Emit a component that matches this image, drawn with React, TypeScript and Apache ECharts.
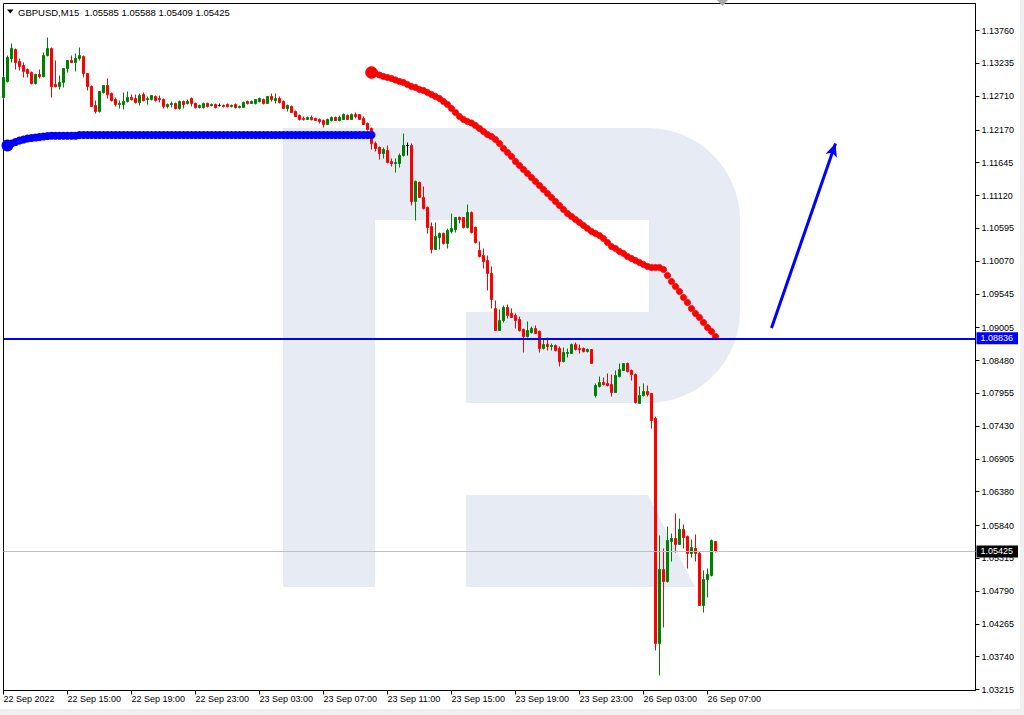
import React, { useEffect, useRef } from "react";
import * as echarts from "echarts";

const FONT = '"Liberation Sans", Arial, sans-serif';

const chartTitle = "GBPUSD,M15";
const lastQuote = ["1.05585", "1.05588", "1.05409", "1.05425"];

const xTickLabels = [
  "22 Sep 2022", "22 Sep 15:00", "22 Sep 19:00", "22 Sep 23:00", "23 Sep 03:00",
  "23 Sep 07:00", "23 Sep 11:00", "23 Sep 15:00", "23 Sep 19:00", "23 Sep 23:00",
  "26 Sep 03:00", "26 Sep 07:00",
];

const yTickValues = [
  1.1376, 1.13235, 1.1271, 1.1217, 1.11645, 1.1112, 1.10595, 1.1007, 1.09545, 1.09005,
  1.0848, 1.07955, 1.0743, 1.06905, 1.0638, 1.0584, 1.05315, 1.0479, 1.04265, 1.0374, 1.03215,
];

// [open, close, low, high]
const candles: number[][] = [
  [1.12688, 1.13008, 1.12656, 1.1304],
  [1.12944, 1.13328, 1.12928, 1.1336],
  [1.13312, 1.13472, 1.13248, 1.13552],
  [1.13456, 1.13248, 1.13136, 1.13472],
  [1.13264, 1.13184, 1.1312, 1.13312],
  [1.132, 1.13104, 1.13008, 1.13248],
  [1.13136, 1.13072, 1.13008, 1.13152],
  [1.13088, 1.12912, 1.12896, 1.13104],
  [1.12912, 1.13056, 1.12896, 1.13072],
  [1.13056, 1.13024, 1.12992, 1.13136],
  [1.13024, 1.1336, 1.13008, 1.13408],
  [1.1336, 1.13472, 1.13344, 1.13648],
  [1.13472, 1.12864, 1.12688, 1.13488],
  [1.12896, 1.12864, 1.12848, 1.1328],
  [1.12864, 1.12928, 1.12816, 1.1304],
  [1.12928, 1.13152, 1.12848, 1.13152],
  [1.13152, 1.1328, 1.13088, 1.1328],
  [1.1328, 1.13248, 1.13248, 1.1336],
  [1.13248, 1.13312, 1.13104, 1.13392],
  [1.13312, 1.1336, 1.1328, 1.13488],
  [1.13344, 1.13072, 1.13008, 1.1336],
  [1.13072, 1.12864, 1.128, 1.13072],
  [1.12864, 1.12544, 1.12544, 1.1288],
  [1.1256, 1.12464, 1.12432, 1.1264],
  [1.12464, 1.12784, 1.12448, 1.12784],
  [1.12768, 1.1288, 1.12752, 1.1288],
  [1.1288, 1.12736, 1.12672, 1.12992],
  [1.12752, 1.1264, 1.12624, 1.12768],
  [1.12656, 1.12576, 1.12544, 1.12688],
  [1.12576, 1.12592, 1.12512, 1.1264],
  [1.12576, 1.12624, 1.12496, 1.12768],
  [1.12624, 1.12688, 1.12608, 1.12784],
  [1.12688, 1.12656, 1.1264, 1.12736],
  [1.12672, 1.12608, 1.12592, 1.12736],
  [1.12608, 1.1272, 1.1256, 1.12752],
  [1.12736, 1.1264, 1.12624, 1.12768],
  [1.12656, 1.12672, 1.12576, 1.12704],
  [1.12656, 1.1272, 1.1264, 1.1272],
  [1.12704, 1.1264, 1.12624, 1.1272],
  [1.12672, 1.12656, 1.12608, 1.1272],
  [1.12656, 1.12544, 1.12512, 1.12672],
  [1.12544, 1.12576, 1.12512, 1.12592],
  [1.12576, 1.12592, 1.12528, 1.12624],
  [1.12592, 1.12512, 1.12496, 1.12608],
  [1.12512, 1.12624, 1.12496, 1.1264],
  [1.12624, 1.12576, 1.12512, 1.1264],
  [1.12592, 1.12624, 1.12576, 1.12656],
  [1.12672, 1.12592, 1.12544, 1.12688],
  [1.12592, 1.12528, 1.12512, 1.12608],
  [1.12528, 1.1256, 1.12512, 1.12576],
  [1.12528, 1.12592, 1.12512, 1.12608],
  [1.12592, 1.12544, 1.12528, 1.12608],
  [1.1256, 1.12576, 1.12544, 1.12592],
  [1.12576, 1.12528, 1.12512, 1.12592],
  [1.1256, 1.1256, 1.12544, 1.12592],
  [1.1256, 1.12544, 1.12528, 1.12576],
  [1.12576, 1.12544, 1.12528, 1.12592],
  [1.12544, 1.1256, 1.12528, 1.12576],
  [1.12576, 1.12528, 1.12512, 1.12592],
  [1.12528, 1.12544, 1.12512, 1.1256],
  [1.12528, 1.12608, 1.12528, 1.12624],
  [1.12624, 1.12592, 1.12576, 1.1264],
  [1.12592, 1.12624, 1.12592, 1.1264],
  [1.12592, 1.12656, 1.12576, 1.12656],
  [1.12624, 1.12672, 1.12608, 1.12688],
  [1.12656, 1.12592, 1.12576, 1.12672],
  [1.12592, 1.12704, 1.12592, 1.12704],
  [1.12704, 1.12656, 1.12624, 1.12752],
  [1.1264, 1.12672, 1.12592, 1.12752],
  [1.12672, 1.12608, 1.12592, 1.12704],
  [1.12624, 1.12512, 1.12512, 1.1264],
  [1.12512, 1.1256, 1.12464, 1.12576],
  [1.12544, 1.12448, 1.12448, 1.1256],
  [1.12464, 1.12384, 1.12384, 1.1248],
  [1.124, 1.12336, 1.1232, 1.12416],
  [1.12352, 1.12336, 1.1232, 1.12384],
  [1.12336, 1.12368, 1.12336, 1.12384],
  [1.12368, 1.12336, 1.1232, 1.124],
  [1.12352, 1.1232, 1.1232, 1.12368],
  [1.12336, 1.12304, 1.12272, 1.12352],
  [1.1232, 1.12256, 1.12208, 1.12336],
  [1.12256, 1.12336, 1.12256, 1.12352],
  [1.1232, 1.12368, 1.12304, 1.12384],
  [1.12368, 1.1232, 1.1232, 1.12384],
  [1.1232, 1.12368, 1.12304, 1.124],
  [1.12336, 1.12416, 1.12336, 1.12432],
  [1.124, 1.12336, 1.12336, 1.12416],
  [1.12336, 1.12416, 1.12336, 1.12432],
  [1.12416, 1.12384, 1.12352, 1.12448],
  [1.12416, 1.12336, 1.12336, 1.12416],
  [1.12352, 1.12256, 1.12256, 1.12384],
  [1.12272, 1.12176, 1.1216, 1.12288],
  [1.12192, 1.11952, 1.11856, 1.12208],
  [1.11952, 1.11872, 1.11824, 1.11984],
  [1.11888, 1.11792, 1.11696, 1.11904],
  [1.11792, 1.11856, 1.11712, 1.11888],
  [1.1184, 1.11648, 1.11632, 1.1192],
  [1.11664, 1.11632, 1.11584, 1.11712],
  [1.11632, 1.11648, 1.11488, 1.11712],
  [1.11632, 1.1176, 1.11568, 1.11792],
  [1.1176, 1.1192, 1.11744, 1.12112],
  [1.1192, 1.1192, 1.1176, 1.11968],
  [1.1192, 1.11024, 1.1096, 1.11952],
  [1.11024, 1.11344, 1.1072, 1.1136],
  [1.11328, 1.11088, 1.11088, 1.11344],
  [1.11088, 1.10912, 1.10896, 1.11264],
  [1.10928, 1.10608, 1.10512, 1.10944],
  [1.10624, 1.10256, 1.10192, 1.10688],
  [1.10256, 1.10464, 1.10256, 1.10688],
  [1.10448, 1.10512, 1.10256, 1.10528],
  [1.10512, 1.10352, 1.10336, 1.10528],
  [1.10352, 1.1056, 1.10272, 1.10592],
  [1.10544, 1.10592, 1.10512, 1.10832],
  [1.10576, 1.10768, 1.10528, 1.10768],
  [1.10768, 1.10736, 1.10672, 1.10784],
  [1.10768, 1.10608, 1.10592, 1.10768],
  [1.10608, 1.10848, 1.10592, 1.10976],
  [1.10848, 1.10528, 1.10512, 1.10864],
  [1.10608, 1.10368, 1.10352, 1.10624],
  [1.1024, 1.10144, 1.10128, 1.10384],
  [1.1016, 1.10064, 1.09952, 1.10272],
  [1.1008, 1.09872, 1.096, 1.1016],
  [1.09872, 1.09456, 1.09312, 1.09984],
  [1.09312, 1.0896, 1.0896, 1.0944],
  [1.0896, 1.0912, 1.0896, 1.09296],
  [1.0912, 1.09328, 1.09088, 1.0936],
  [1.09328, 1.092, 1.09152, 1.09376],
  [1.09232, 1.09168, 1.09168, 1.09312],
  [1.092, 1.0912, 1.08992, 1.09232],
  [1.09136, 1.0896, 1.08944, 1.09184],
  [1.08976, 1.08864, 1.08608, 1.08992],
  [1.08864, 1.0896, 1.08848, 1.09104],
  [1.08928, 1.08992, 1.08912, 1.09024],
  [1.08992, 1.08912, 1.08912, 1.0904],
  [1.08944, 1.08672, 1.08608, 1.0896],
  [1.08672, 1.08736, 1.08656, 1.08832],
  [1.08736, 1.08704, 1.0864, 1.08848],
  [1.08704, 1.0872, 1.0864, 1.08752],
  [1.0872, 1.0864, 1.08624, 1.08736],
  [1.08672, 1.08464, 1.08384, 1.08704],
  [1.08464, 1.08608, 1.08448, 1.08688],
  [1.08592, 1.08608, 1.08528, 1.08672],
  [1.08592, 1.08736, 1.08592, 1.08752],
  [1.08736, 1.08656, 1.0864, 1.08768],
  [1.08672, 1.08656, 1.08592, 1.08736],
  [1.08672, 1.08624, 1.08608, 1.08688],
  [1.08624, 1.08656, 1.08608, 1.08672],
  [1.08656, 1.08432, 1.08432, 1.08656],
  [1.0792, 1.0808, 1.07888, 1.08112],
  [1.08064, 1.08128, 1.08048, 1.08224],
  [1.08128, 1.08096, 1.0808, 1.08208],
  [1.08112, 1.0808, 1.08064, 1.08272],
  [1.08096, 1.07968, 1.07904, 1.08256],
  [1.07968, 1.0824, 1.07968, 1.0832],
  [1.08224, 1.08336, 1.08208, 1.08432],
  [1.0832, 1.08432, 1.0832, 1.08432],
  [1.08432, 1.08304, 1.08288, 1.08448],
  [1.0832, 1.08256, 1.0816, 1.08336],
  [1.08256, 1.07808, 1.07792, 1.08272],
  [1.07792, 1.0792, 1.07792, 1.08064],
  [1.0792, 1.07984, 1.07904, 1.08112],
  [1.07984, 1.07936, 1.07904, 1.0808],
  [1.07952, 1.0752, 1.07392, 1.07952],
  [1.07552, 1.03952, 1.0384, 1.07584],
  [1.03952, 1.05136, 1.0344, 1.0568],
  [1.05136, 1.04944, 1.04208, 1.05472],
  [1.04944, 1.056, 1.04928, 1.05824],
  [1.05584, 1.05632, 1.05264, 1.05712],
  [1.05632, 1.05536, 1.05408, 1.06032],
  [1.05536, 1.05776, 1.05536, 1.05952],
  [1.05776, 1.05648, 1.05472, 1.05856],
  [1.05664, 1.05392, 1.05152, 1.0568],
  [1.05392, 1.05488, 1.05328, 1.05616],
  [1.05472, 1.05392, 1.05264, 1.05696],
  [1.05392, 1.0456, 1.0456, 1.05424],
  [1.0456, 1.04976, 1.04448, 1.0512],
  [1.04976, 1.05056, 1.04688, 1.05152],
  [1.0504, 1.056, 1.05024, 1.05616],
  [1.05585, 1.05425, 1.05409, 1.05588],
];

// blue dotted indicator (starts at bar 1)
const blueDotStart = 1;
const blueDots = [
  1.1192, 1.11952, 1.11976, 1.12, 1.12016, 1.12032, 1.1204, 1.12048, 1.12056, 1.12064,
  1.12072, 1.12077, 1.12077, 1.12077, 1.12077, 1.12077, 1.12077, 1.12077, 1.12088, 1.12088,
  1.12088, 1.12088, 1.12088, 1.12088, 1.12088, 1.12088, 1.12088, 1.12088, 1.12088, 1.12088,
  1.12088, 1.12088, 1.12088, 1.12088, 1.12088, 1.12088, 1.12088, 1.12088, 1.12088, 1.12088,
  1.12088, 1.12088, 1.12088, 1.12088, 1.12088, 1.12088, 1.12088, 1.12088, 1.12088, 1.12088,
  1.12088, 1.12088, 1.12088, 1.12088, 1.12088, 1.12088, 1.12088, 1.12088, 1.12088, 1.12088,
  1.12088, 1.12088, 1.12088, 1.12088, 1.12088, 1.12088, 1.12088, 1.12088, 1.12088, 1.12088,
  1.12088, 1.12088, 1.12088, 1.12088, 1.12088, 1.12088, 1.12088, 1.12088, 1.12088, 1.12088,
  1.12088, 1.12088, 1.12088, 1.12088, 1.12088, 1.12088, 1.12088, 1.12088, 1.12088, 1.12088,
  1.12088, 1.12088,
];

// red dotted indicator (starts at bar 92)
const redDotStart = 92;
const redDots = [
  1.13088, 1.13072, 1.13048, 1.13024, 1.13008, 1.12992, 1.12968, 1.12944, 1.12928, 1.12896,
  1.12864, 1.12848, 1.12816, 1.128, 1.12768, 1.12736, 1.12704, 1.12672, 1.12624, 1.12576,
  1.12512, 1.12448, 1.12384, 1.12336, 1.12304, 1.1228, 1.1224, 1.12192, 1.12144, 1.12096,
  1.12064, 1.12016, 1.11952, 1.11872, 1.11808, 1.11744, 1.11664, 1.116, 1.11536, 1.11472,
  1.11408, 1.11344, 1.1128, 1.11216, 1.11152, 1.11088, 1.11024, 1.1096, 1.10896, 1.10832,
  1.10784, 1.10736, 1.10688, 1.1064, 1.10592, 1.10544, 1.10512, 1.1048, 1.10432, 1.10368,
  1.10304, 1.10272, 1.10224, 1.10192, 1.10144, 1.10112, 1.1008, 1.10048, 1.10016, 1.09984,
  1.09968, 1.09968, 1.09968, 1.09936, 1.0984, 1.09744, 1.09664, 1.09584, 1.09488, 1.09408,
  1.09312, 1.09232, 1.09168, 1.09088, 1.09008, 1.08944, 1.08864,
];

const levelLine = 1.08836;
const bidLine = 1.05425;
const arrowFrom = [192, 1.09];
const arrowTo = [208, 1.11952];
const slotCount = 244;
const weekendSlot = 148;

function pad2(n: number) {
  return n < 10 ? "0" + n : String(n);
}

const categories = Array.from({ length: slotCount }, (_, i) => {
  let t = Date.UTC(2022, 8, 22, 11, 0) + i * 15 * 60000;
  if (i >= weekendSlot) t += 48 * 3600000;
  const d = new Date(t);
  return `${d.getUTCDate()} Sep ${pad2(d.getUTCHours())}:${pad2(d.getUTCMinutes())}`;
});

function padded(values: number[], start: number, bigSize: number) {
  const out: any[] = Array.from({ length: slotCount }, () => "-");
  values.forEach((v, k) => {
    out[start + k] = k === 0 ? { value: v, symbolSize: bigSize } : v;
  });
  return out;
}

const showTick = (index: number) => index % 16 === 0 && index / 16 < xTickLabels.length;

const WM = "#e6ebf4";

const priceTag = (value: number, bg: string) => ({
  show: true,
  position: "end",
  distance: 1,
  formatter: () => value.toFixed(5),
  color: "#ffffff",
  backgroundColor: bg,
  padding: [2, 5, 1, 4],
  fontSize: 9,
  fontFamily: FONT,
});

export default function App() {
  const ref = useRef<HTMLDivElement>(null);

  useEffect(() => {
    if (!ref.current) return;
    const chart = echarts.init(ref.current, null, { renderer: "svg" });
    const option: any = {
      animation: false,
      backgroundColor: "#ffffff",
      grid: {
        left: 3.5,
        top: 3.5,
        right: 48.5,
        bottom: 24.5,
        show: true,
        borderColor: "#000",
        borderWidth: 1,
        backgroundColor: "transparent",
      },
      xAxis: {
        type: "category",
        data: categories,
        boundaryGap: false,
        axisLine: { show: true, lineStyle: { color: "#000", width: 1 } },
        axisTick: { show: true, interval: showTick, length: 4, lineStyle: { color: "#000" } },
        axisLabel: {
          interval: showTick,
          formatter: (_v: string, index: number) => xTickLabels[index / 16] ?? "",
          align: "left",
          margin: 4,
          color: "#000",
          fontSize: 9,
          fontFamily: FONT,
          hideOverlap: false,
        },
        splitLine: { show: false },
      },
      yAxis: {
        type: "value",
        position: "right",
        min: 1.032,
        max: 1.14192,
        axisLine: { show: true, lineStyle: { color: "#000", width: 1 } },
        axisTick: { show: true, length: 4, customValues: yTickValues, lineStyle: { color: "#000" } },
        axisLabel: {
          customValues: yTickValues,
          formatter: (v: number) => v.toFixed(5),
          margin: 6,
          color: "#000",
          fontSize: 9,
          fontFamily: FONT,
        },
        splitLine: { show: false },
      },
      graphic: [
        // watermark
        { type: "rect", z: 0, silent: true, shape: { x: 283, y: 128, width: 457, height: 275, r: [0, 92, 92, 0] }, style: { fill: WM } },
        { type: "rect", z: 0, silent: true, shape: { x: 283, y: 128, width: 92, height: 459 }, style: { fill: WM } },
        { type: "rect", z: 0, silent: true, shape: { x: 375, y: 220, width: 274, height: 92 }, style: { fill: "#ffffff" } },
        { type: "rect", z: 0, silent: true, shape: { x: 375, y: 312, width: 91, height: 91 }, style: { fill: "#ffffff" } },
        { type: "polygon", z: 0, silent: true, shape: { points: [[466, 495], [648, 495], [695, 587], [466, 587]] }, style: { fill: WM } },
        // title
        { type: "polygon", silent: true, shape: { points: [[7, 9.5], [13.5, 9.5], [10.25, 13.5]] }, style: { fill: "#000" } },
        {
          type: "text",
          silent: true,
          x: 18,
          y: 12,
          style: {
            text: `${chartTitle}  ${lastQuote.join(" ")}`,
            fill: "#000",
            fontSize: 9.5,
            fontFamily: FONT,
            verticalAlign: "middle",
          },
        },
        // chart shift marker
        { type: "polygon", silent: true, shape: { points: [[717, 0], [728, 0], [722.5, 6]] }, style: { fill: "#a8a8a8" } },
        // window frame strips
        { type: "rect", silent: true, shape: { x: 0, y: 709, width: 1024, height: 6 }, style: { fill: "#f0f0f0" } },
        { type: "rect", silent: true, shape: { x: 1020, y: 0, width: 4, height: 715 }, style: { fill: "#f0f0f0" } },
      ],
      series: [
        {
          type: "candlestick",
          data: candles,
          barWidth: 2,
          clip: true,
          z: 3,
          itemStyle: {
            color: "#008000",
            color0: "#ff0000",
            borderColor: "#008000",
            borderColor0: "#ff0000",
            borderColorDoji: "#000000",
            borderWidth: 1,
          },
        },
        {
          type: "line",
          data: padded(blueDots, blueDotStart, 12),
          symbol: "circle",
          symbolSize: 8,
          showAllSymbol: true,
          connectNulls: false,
          lineStyle: { opacity: 0 },
          itemStyle: { color: "#0000ff" },
          z: 4,
          silent: true,
          markLine: {
            silent: true,
            symbol: ["none", "none"],
            precision: 5,
            animation: false,
            data: [
              {
                yAxis: levelLine,
                lineStyle: { color: "#0000ff", width: 2, type: "solid" },
                label: priceTag(levelLine, "#0000ff"),
              },
              {
                yAxis: bidLine,
                lineStyle: { color: "#c0c0c0", width: 1, type: "solid" },
                label: priceTag(bidLine, "#000000"),
              },
            ],
          },
        },
        {
          type: "line",
          data: padded(redDots, redDotStart, 12),
          symbol: "circle",
          symbolSize: 6.5,
          showAllSymbol: true,
          connectNulls: false,
          lineStyle: { opacity: 0 },
          itemStyle: { color: "#ff0000", borderColor: "#e00000", borderWidth: 0.5 },
          z: 4,
          silent: true,
          markLine: {
            silent: true,
            animation: false,
            precision: 5,
            symbol: ["none", "arrow"],
            symbolSize: [9, 13],
            label: { show: false },
            lineStyle: { color: "#0000ff", width: 3, type: "solid" },
            data: [[{ coord: arrowFrom }, { coord: arrowTo }]],
          },
        },
      ],
    };
    chart.setOption(option);
    return () => chart.dispose();
  }, []);

  return (
    <div
      ref={ref}
      style={{ position: "fixed", left: 0, top: 0, width: 1024, height: 715, background: "#fff" }}
    />
  );
}
